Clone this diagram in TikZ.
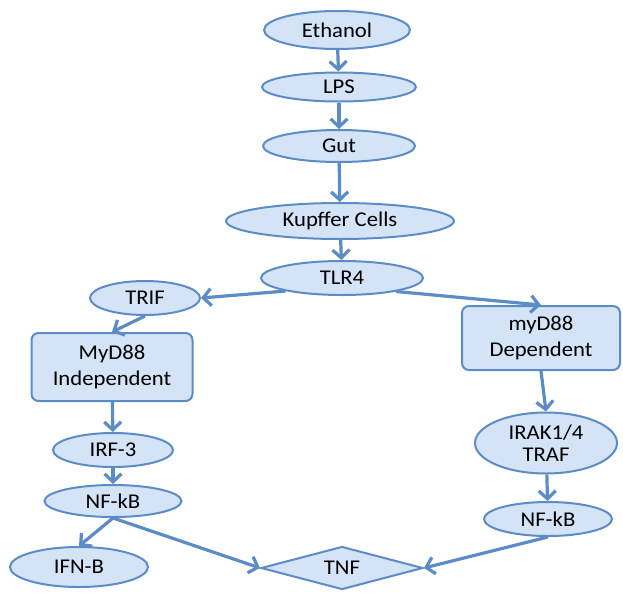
\documentclass[tikz,border=0pt]{standalone}
\usepackage{fontspec}
\setmainfont{Carlito}[FakeStretch=1.08]
\usetikzlibrary{shapes.geometric,arrows.meta}
\definecolor{pathblue}{RGB}{92,140,198}
\definecolor{pathfill}{RGB}{212,227,246}

\begin{document}
\begin{tikzpicture}[x=1pt,y=-1pt,
		every node/.style={font=\fontsize{21}{26}\selectfont, text=black, inner sep=0pt, align=center},
		oval/.style={ellipse, draw=pathblue, line width=2pt, fill=pathfill},
		rbox/.style={rectangle, rounded corners=7pt, draw=pathblue, line width=2pt, fill=pathfill},
		rhomb/.style={diamond, aspect=3.8, draw=pathblue, line width=2pt, fill=pathfill},
		flow/.style={draw=pathblue, line width=3.2pt, -{Straight Barb[length=8pt,width=17pt]}}]
			\useasboundingbox (0,0) rectangle (623,592);
			\node[oval, minimum width=146pt, minimum height=38pt] (ethanol) at (337,30) {Ethanol};
			\node[oval, minimum width=154pt, minimum height=29pt] (lps) at (339,87) {LPS};
			\node[oval, minimum width=152pt, minimum height=32pt] (gut) at (339,146) {Gut};
			\node[oval, minimum width=228pt, minimum height=36pt] (kupffer) at (340,221) {Kupffer Cells};
			\node[oval, minimum width=162pt, minimum height=34pt] (tlr4) at (342,278) {TLR4};
			\node[oval, minimum width=110pt, minimum height=34pt] (trif) at (145,298) {TRIF};
			\node[rbox, minimum width=161pt, minimum height=68pt] (indep) at (112,367) {MyD88\\Independent};
			\node[rbox, minimum width=158pt, minimum height=64pt] (dep) at (541,338) {myD88\\Dependent};
			\node[oval, minimum width=120pt, minimum height=34pt] (irf3) at (113,450) {IRF-3};
			\node[oval, minimum width=137pt, minimum height=32pt] (nfkbleft) at (113,501) {NF-kB};
			\node[oval, minimum width=138pt, minimum height=40pt] (ifnb) at (79,567) {IFN-B};
			\node[oval, minimum width=142pt, minimum height=61pt] (irak) at (546,443) {IRAK1/4\\[-4pt]TRAF};
			\node[oval, minimum width=128pt, minimum height=34pt] (nfkbright) at (548,519) {NF-kB};
			\node[rhomb, minimum width=162pt, minimum height=43pt] (tnf) at (342,568) {TNF};
			\draw[flow] (ethanol) -- (lps);
			\draw[flow] (lps) -- (gut);
			\draw[flow] (gut) -- (kupffer);
			\draw[flow] (kupffer) -- (tlr4);
			\draw[flow] (tlr4.193) -- (trif.east);
			\draw[flow] (tlr4.346) -- (dep.north);
			\draw[flow] (trif.south) -- (indep.north);
			\draw[flow] (indep) -- (irf3);
			\draw[flow] (irf3) -- (nfkbleft);
			\draw[flow] (nfkbleft.south) -- (ifnb.north);
			\draw[flow] (nfkbleft.south) -- (tnf.west);
			\draw[flow] (dep.south) -- (irak.north);
			\draw[flow] (irak) -- (nfkbright);
			\draw[flow] (nfkbright.south) -- (tnf.east);
		\end{tikzpicture}
\end{document}
